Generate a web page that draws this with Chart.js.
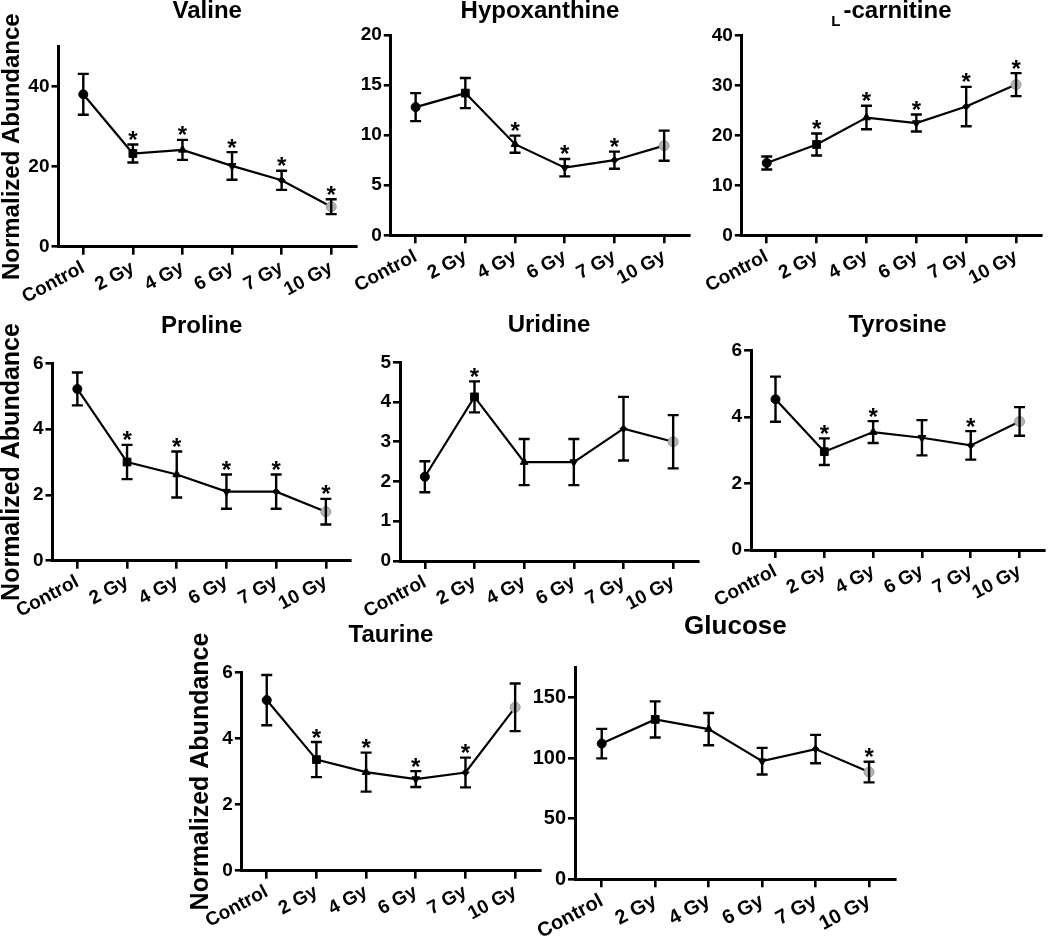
<!DOCTYPE html>
<html>
<head>
<meta charset="utf-8">
<script src="https://cdn.jsdelivr.net/npm/chart.js@4.4.1/dist/chart.umd.min.js"></script>
<style>
  html, body { margin: 0; padding: 0; background: #fff; }
  #wrap { position: relative; width: 1050px; height: 936px; overflow: hidden; background: #fff; }
  canvas { position: absolute; }
</style>
</head>
<body>
<div id="wrap"></div>
<script>
// ---------- DATA ----------
const categories = ['Control', '2 Gy', '4 Gy', '6 Gy', '7 Gy', '10 Gy'];

const valineMean = [38.1, 23.3, 24.2, 20.2, 16.6, 10.0];
const valineSem  = [5.1, 2.25, 2.5, 3.45, 2.4, 1.85];
const valineSig  = [0, 1, 1, 1, 1, 1];

const hypoxMean = [12.8, 14.2, 9.1, 6.75, 7.5, 8.95];
const hypoxSem  = [1.4, 1.5, 0.85, 0.87, 0.85, 1.5];
const hypoxSig  = [0, 0, 1, 1, 1, 0];

const carnMean = [14.5, 18.2, 23.6, 22.5, 25.8, 30.2];
const carnSem  = [1.3, 2.2, 2.35, 1.7, 3.95, 2.3];
const carnSig  = [0, 1, 1, 1, 1, 1];

const prolineMean = [5.22, 3.0, 2.62, 2.1, 2.1, 1.49];
const prolineSem  = [0.5, 0.52, 0.7, 0.52, 0.52, 0.39];
const prolineSig  = [0, 1, 1, 1, 1, 1];

const uridineMean = [2.12, 4.13, 2.49, 2.49, 3.33, 3.0];
const uridineSem  = [0.39, 0.39, 0.58, 0.58, 0.8, 0.67];
const uridineSig  = [0, 1, 0, 0, 0, 0];

const tyrosineMean = [4.54, 2.96, 3.55, 3.38, 3.15, 3.87];
const tyrosineSem  = [0.68, 0.4, 0.33, 0.53, 0.43, 0.43];
const tyrosineSig  = [0, 1, 1, 0, 1, 0];

const taurineMean = [5.16, 3.36, 2.98, 2.77, 2.97, 4.94];
const taurineSem  = [0.76, 0.53, 0.59, 0.24, 0.45, 0.72];
const taurineSig  = [0, 1, 1, 1, 1, 0];

const glucoseMean = [112, 132, 124, 97.5, 107.5, 88.5];
const glucoseSem  = [12.2, 14.9, 13.3, 11, 11.7, 8.5];
const glucoseSig  = [0, 0, 0, 0, 0, 1];

const yAxisLabel = 'Normalized Abundance';

// ---------- STYLE / LAYOUT ----------
const FONT = '"Liberation Sans", Arial, Helvetica, sans-serif';
const pointStyles   = ['circle', 'rect', 'triangle', 'triangle', 'rectRot', 'circle'];
const pointRotation = [0, 0, 0, 180, 0, 0];
const pointRadius   = [4.5, 5.5, 4.5, 4.5, 3.5, 5];
const pointFill     = ['#000', '#000', '#000', '#000', '#000', '#b4b4b4'];
const pointEdge     = ['#000', '#000', '#000', '#000', '#000', '#9a9a9a'];

const panels = [
  { title: 'Valine', mean: valineMean, sem: valineSem, sig: valineSig, yMax: 50, step: 20,
    canvas: [0, 0, 362, 305], area: [58.5, 46.7, 357.3, 246.7], titleBase: 18, titleSize: 24, yTitle: 24, tick: 19 },
  { title: 'Hypoxanthine', mean: hypoxMean, sem: hypoxSem, sig: hypoxSig, yMax: 20, step: 5,
    canvas: [340, 0, 355, 305], area: [390.8, 35, 690, 235.3], titleBase: 17.5, titleSize: 24, tick: 19 },
  { title: '-carnitine', prefix: 'L', mean: carnMean, sem: carnSem, sig: carnSig, yMax: 40, step: 10,
    canvas: [695, 0, 355, 305], area: [741.8, 35.7, 1041, 235.3], titleBase: 18, titleSize: 24, tick: 19 },
  { title: 'Proline', mean: prolineMean, sem: prolineSem, sig: prolineSig, yMax: 6, step: 2,
    canvas: [0, 300, 360, 320], area: [52.5, 363.3, 350.7, 560.7], titleBase: 332.5, titleSize: 24, yTitle: 25, tick: 19 },
  { title: 'Uridine', mean: uridineMean, sem: uridineSem, sig: uridineSig, yMax: 5, step: 1,
    canvas: [352, 300, 352, 320], area: [400, 362.3, 698.4, 561], titleBase: 331.5, titleSize: 24, tick: 19 },
  { title: 'Tyrosine', mean: tyrosineMean, sem: tyrosineSem, sig: tyrosineSig, yMax: 6, step: 2,
    canvas: [704, 300, 346, 320], area: [751.1, 350.7, 1050, 550], titleBase: 331.5, titleSize: 24, tick: 19 },
  { title: 'Taurine', mean: taurineMean, sem: taurineSem, sig: taurineSig, yMax: 6, step: 2,
    canvas: [189, 612, 362, 324], area: [241.9, 672.3, 540, 870.7], titleBase: 641.5, titleSize: 24, yTitle: 25, tick: 19 },
  { title: 'Glucose', mean: glucoseMean, sem: glucoseSem, sig: glucoseSig, yMax: 175, step: 50,
    canvas: [520, 612, 392, 324], area: [575, 667.3, 895.8, 879.3], titleBase: 634, titleSize: 26, tick: 20 },
];

// ---------- PLUGINS ----------
const errorBarPlugin = {
  id: 'errorBars',
  afterDatasetsDraw(chart, args, opts) {
    const { ctx } = chart;
    const xs = chart.scales.x, ys = chart.scales.y;
    const ds = chart.data.datasets[0];
    ctx.save();
    ctx.strokeStyle = '#000';
    ctx.fillStyle = '#000';
    ctx.lineWidth = 2.4;
    ctx.lineCap = 'butt';
    ds.data.forEach((m, i) => {
      const s = opts.sem[i];
      const px = xs.getPixelForValue(i);
      const hi = ys.getPixelForValue(m + s);
      const lo = ys.getPixelForValue(m - s);
      const cap = opts.cap;
      ctx.beginPath();
      ctx.moveTo(px, hi); ctx.lineTo(px, lo);
      ctx.moveTo(px - cap, hi); ctx.lineTo(px + cap, hi);
      ctx.moveTo(px - cap, lo); ctx.lineTo(px + cap, lo);
      ctx.stroke();
      if (opts.sig[i]) {
        ctx.font = 'bold 24px ' + FONT;
        ctx.textAlign = 'center';
        ctx.textBaseline = 'alphabetic';
        ctx.fillText('*', px, hi + 3.5);
      }
    });
    ctx.restore();
  }
};

const panelTitlePlugin = {
  id: 'panelTitle',
  afterDraw(chart, args, opts) {
    const { ctx, chartArea } = chart;
    const cx = (chartArea.left + chartArea.right) / 2;
    ctx.save();
    ctx.fillStyle = '#000';
    ctx.textBaseline = 'alphabetic';
    ctx.textAlign = 'left';
    const mainFont = 'bold ' + opts.size + 'px ' + FONT;
    const subFont = 'bold ' + Math.round(opts.size * 0.62) + 'px ' + FONT;
    ctx.font = mainFont;
    const wMain = ctx.measureText(opts.text).width;
    let wSub = 0;
    if (opts.prefix) { ctx.font = subFont; wSub = ctx.measureText(opts.prefix).width + 3; }
    const x0 = cx - (wMain + wSub) / 2;
    if (opts.prefix) {
      ctx.font = subFont;
      ctx.fillText(opts.prefix, x0, opts.baseline + 7.5);
    }
    ctx.font = mainFont;
    ctx.fillText(opts.text, x0 + wSub, opts.baseline);
    ctx.restore();
  }
};

// ---------- BUILD ----------
const wrap = document.getElementById('wrap');
panels.forEach((p) => {
  const [cx, cy, cw, ch] = p.canvas;
  const [L, T, R, B] = p.area;
  const cv = document.createElement('canvas');
  cv.width = cw; cv.height = ch;
  cv.style.left = cx + 'px'; cv.style.top = cy + 'px';
  cv.style.width = cw + 'px'; cv.style.height = ch + 'px';
  wrap.appendChild(cv);

  const yWidth = L - cx;
  const xHeight = (cy + ch) - B;
  const tickFont = { family: FONT, size: p.tick, weight: 'bold' };

  new Chart(cv.getContext('2d'), {
    type: 'line',
    data: {
      labels: categories,
      datasets: [{
        data: p.mean,
        borderColor: '#000',
        borderWidth: 2.2,
        tension: 0,
        fill: false,
        pointStyle: pointStyles,
        rotation: pointRotation,
        pointRotation: pointRotation,
        pointRadius: pointRadius,
        pointBackgroundColor: pointFill,
        pointBorderColor: pointEdge,
        pointBorderWidth: 1,
        clip: false
      }]
    },
    options: {
      responsive: false,
      animation: false,
      devicePixelRatio: 1,
      events: [],
      layout: { padding: { left: 0, top: T - cy, right: (cx + cw) - R, bottom: 0 } },
      plugins: {
        legend: { display: false },
        tooltip: { enabled: false },
        title: { display: false },
        errorBars: { sem: p.sem, sig: p.sig, cap: 5.5 },
        panelTitle: { text: p.title, prefix: p.prefix, size: p.titleSize, baseline: p.titleBase - cy }
      },
      scales: {
        x: {
          type: 'category',
          offset: true,
          grid: { display: true, drawOnChartArea: false, drawTicks: true, tickLength: 8, lineWidth: 2.6, color: '#000', offset: false },
          border: { display: true, width: 3, color: '#000' },
          ticks: { font: tickFont, color: '#000', autoSkip: false, minRotation: 28, maxRotation: 28, padding: 2 },
          afterFit(scale) { scale.height = xHeight; scale.paddingLeft = 0; scale.paddingRight = 0; }
        },
        y: {
          type: 'linear',
          min: 0,
          max: p.yMax,
          grid: { display: true, drawOnChartArea: false, drawTicks: true, tickLength: 7, lineWidth: 2.6, color: '#000' },
          border: { display: true, width: 3, color: '#000' },
          ticks: { font: tickFont, color: '#000', stepSize: p.step, includeBounds: false, padding: 2 },
          title: p.yTitle ? {
            display: true, text: yAxisLabel, color: '#000', padding: { top: 0, bottom: 0 },
            font: { family: FONT, size: p.yTitle, weight: 'bold', lineHeight: 1 }
          } : { display: false },
          afterFit(scale) { scale.width = yWidth; scale.paddingTop = 0; scale.paddingBottom = 0; }
        }
      }
    },
    plugins: [errorBarPlugin, panelTitlePlugin]
  });
});
</script>
</body>
</html>
